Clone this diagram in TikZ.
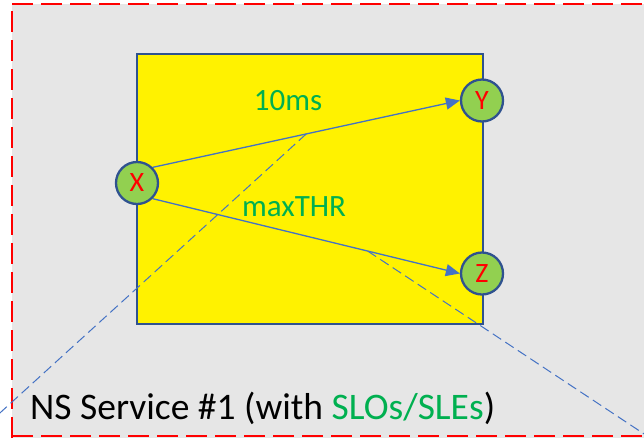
\documentclass[tikz,border=0pt]{standalone}
\usepackage{fontspec}
\setmainfont{Carlito}
\usetikzlibrary{arrows.meta,calc}
\definecolor{panelgray}{HTML}{E6E6E6}
\definecolor{edgeblue}{HTML}{2F528F}
\definecolor{linkblue}{HTML}{4472C4}
\definecolor{nodegreen}{HTML}{92D050}
\definecolor{slogreen}{HTML}{00B050}
\begin{document}
\begin{tikzpicture}[x=1pt,y=-1pt,
  vnode/.style={circle, draw=edgeblue, line width=2.3pt, fill=nodegreen,
    minimum size=42pt, inner sep=0pt, text=red, font=\fontsize{28}{28}\selectfont},
  link/.style={draw=linkblue, line width=1.3pt, -{Triangle[length=14pt,width=12pt]}},
  zoomline/.style={draw=linkblue, line width=1pt, dash pattern=on 10pt off 5pt},
  redframe/.style={draw=red, line width=2.3pt, dash pattern=on 21pt off 8pt},
  slolabel/.style={text=slogreen, font=\fontsize{31}{31}\selectfont, inner sep=0pt, anchor=base}]
  \useasboundingbox (0,0) rectangle (644,437);
  \clip (0,0) rectangle (644,437);

  % service panel
  \fill[panelgray] (12,4) rectangle (660,450);
  \draw[redframe] (12,4) -- (660,4);
  \draw[redframe, dash phase=22pt] (12,4) -- (12,450);
  \draw[redframe] (12,436) -- (660,436);

  % service box
  \node[draw=edgeblue, fill=yellow, line width=2pt, minimum width=346pt,
        minimum height=270pt, inner sep=0pt, anchor=north west] (svc) at (136,53) {};

  % endpoints
  \node[vnode] (X) at (137,183) {X};
  \node[vnode] (Y) at (482,100.5) {Y};
  \node[vnode] (Z) at (482,273.5) {Z};

  % zoom-out guide lines
  \coordinate (m1) at ($(X.north east)!0.5!(Y.west)$);
  \coordinate (m2) at ($(X.south east)!0.7!(Z.west)$);
  \coordinate (farleft) at (-10,422);
  \coordinate (farright) at (654,440.5);
  \draw[zoomline] (m1) -- (farleft);
  \draw[zoomline] (m2) -- (farright);

  % links
  \draw[link] (X.north east) -- (Y.west);
  \draw[link] (X.south east) -- (Z.west);

  % SLO labels
  \node[slolabel] (lat) at (288,110) {10ms};
  \node[slolabel] (thr) at (294,216) {maxTHR};

  % caption
  \node[anchor=base west, inner sep=0pt, font=\fontsize{37.5}{37.5}\selectfont] (caption)
    at (30,419) {NS Service \#1 (with \textcolor{slogreen}{SLOs/SLEs})};
\end{tikzpicture}
\end{document}
